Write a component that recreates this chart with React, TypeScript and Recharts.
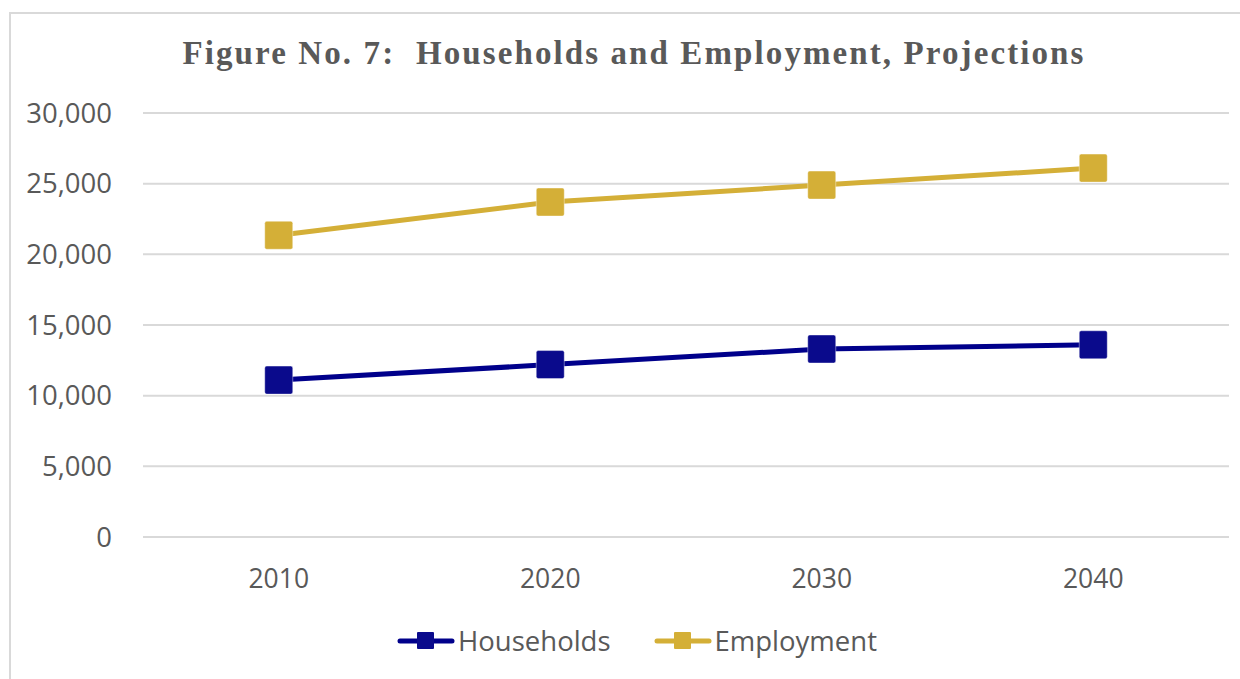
import { LineChart, Line, XAxis, YAxis, CartesianGrid } from "recharts";

const years = ["2010", "2020", "2030", "2040"];
const households = [11100, 12200, 13300, 13600];
const employment = [21350, 23700, 24900, 26100];
const yTicks = [0, 5000, 10000, 15000, 20000, 25000, 30000];

const NAVY = "#00008b";
const GOLD = "#d4af37";
const TEXT = "#595959";

const data = years.map((year, i) => ({
  year,
  households: households[i],
  employment: employment[i],
}));

const SquareDot = (props: any) => {
  const { cx, cy, stroke, fill } = props;
  if (cx == null || cy == null) return null;
  return (
    <rect
      x={cx - 14}
      y={cy - 14}
      width={28}
      height={28}
      rx={2}
      fill={fill}
      stroke={stroke}
      strokeOpacity={0.4}
      strokeWidth={1}
    />
  );
};

const series = [
  { key: "households", name: "Households", color: NAVY, dotFill: "#0a0a8c" },
  { key: "employment", name: "Employment", color: GOLD, dotFill: GOLD },
];

// legend drawn as plain html under the plot
const ChartLegend = () => (
  <div
    style={{
      position: "absolute",
      left: 0,
      top: 622,
      width: 1274,
      display: "flex",
      justifyContent: "center",
      gap: 43,
      fontFamily: "'Open Sans', sans-serif",
      fontSize: 27.5,
      color: TEXT,
      lineHeight: "38px",
    }}
  >
    {series.map((s) => (
      <div key={s.key} style={{ display: "flex", alignItems: "center" }}>
        <svg width={58} height={24} style={{ marginRight: 3 }}>
          <line x1={3} y1={12} x2={55} y2={12} stroke={s.color} strokeWidth={5} strokeLinecap="round" />
          <rect x={20} y={3} width={17} height={17} rx={1} fill={s.dotFill} />
        </svg>
        <span>{s.name}</span>
      </div>
    ))}
  </div>
);

export default function App() {
  return (
    <div style={{ position: "absolute", left: 0, top: 0, width: 1240, height: 679, background: "#fff", overflow: "hidden" }}>
      <div
        style={{
          position: "absolute",
          left: 9,
          top: 12,
          width: 1250,
          height: 700,
          border: "2px solid #d9d9d9",
          boxSizing: "border-box",
        }}
      />
      <div
        style={{
          position: "absolute",
          left: 0,
          top: 35,
          width: 1268,
          textAlign: "center",
          fontFamily: "'Liberation Serif', serif",
          fontWeight: "bold",
          fontSize: 33,
          letterSpacing: 2.1,
          color: TEXT,
          whiteSpace: "pre",
        }}
      >
        {"Figure No. 7:  Households and Employment, Projections"}
      </div>
      <div style={{ position: "absolute", left: 0, top: 0 }}>
        <LineChart width={1240} height={679} data={data} margin={{ top: 113, right: 11, bottom: 112, left: 0 }}>
          <CartesianGrid vertical={false} stroke="#d9d9d9" strokeWidth={2} />
          <XAxis
            dataKey="year"
            height={30}
            padding={{ left: 135.75, right: 135.75 }}
            axisLine={{ stroke: "#d9d9d9", strokeWidth: 2 }}
            tickLine={false}
            tickSize={0}
            tickMargin={32}
            tick={{ fill: TEXT, fontSize: 26.5, fontFamily: "'Open Sans', sans-serif" }}
          />
          <YAxis
            width={143}
            domain={[0, 30000]}
            ticks={yTicks}
            axisLine={false}
            tickLine={false}
            tickSize={0}
            tickMargin={31}
            tickFormatter={(v: number) => v.toLocaleString("en-US")}
            tick={{ fill: TEXT, fontSize: 27.5, fontFamily: "'Open Sans', sans-serif" }}
          />
          {series.map((s) => (
            <Line
              key={s.key}
              dataKey={s.key}
              name={s.name}
              stroke={s.color}
              strokeWidth={5}
              type="linear"
              dot={<SquareDot fill={s.dotFill} stroke="#ffffff" />}
              activeDot={false}
              isAnimationActive={false}
            />
          ))}
        </LineChart>
      </div>
      <ChartLegend />
    </div>
  );
}
